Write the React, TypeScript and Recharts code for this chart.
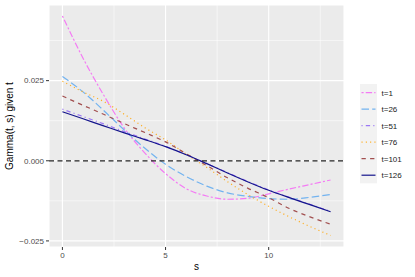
import React from "react";
import { LineChart, Line, XAxis, YAxis, CartesianGrid, ReferenceLine } from "recharts";

const S_VALUES = [0, 1, 2, 3, 4, 5, 6, 7, 8, 9, 10, 11, 12, 13];
const T1 = [0.0452, 0.032, 0.0205, 0.0102, 0.0024, -0.004, -0.0087, -0.011, -0.012, -0.0117, -0.0103, -0.0088, -0.0074, -0.006];
const T26 = [0.0263, 0.0215, 0.0157, 0.0096, 0.0039, -0.0011, -0.0049, -0.0079, -0.01, -0.0111, -0.0118, -0.012, -0.0114, -0.0105];
const T51 = [0.0161, 0.0138, 0.0115, 0.0091, 0.0068, 0.0045, 0.0019, -0.0009, -0.0037, -0.0065, -0.0091, -0.0114, -0.0136, -0.0158];
const T76 = [0.0248, 0.0215, 0.0185, 0.0145, 0.0103, 0.0065, 0.0021, -0.0021, -0.0065, -0.0106, -0.0142, -0.0175, -0.0205, -0.0233];
const T101 = [0.0202, 0.0173, 0.0145, 0.0116, 0.0088, 0.0059, 0.0022, -0.0015, -0.0053, -0.0086, -0.0115, -0.0149, -0.0175, -0.0198];
const T126 = [0.0153, 0.0131, 0.0109, 0.0087, 0.0066, 0.0044, 0.0019, -0.0009, -0.0038, -0.0066, -0.0092, -0.0115, -0.0137, -0.0159];

const SERIES_NAMES = ["t=1", "t=26", "t=51", "t=76", "t=101", "t=126"];
const SERIES_VALUES = [T1, T26, T51, T76, T101, T126];
const SERIES_COLORS = ["#F47BF4", "#72B3F0", "#9B78F5", "#FFAD1F", "#A24F4F", "#14148C"];
const SERIES_DASH = ["2.1 2.1 6.4 2.1", "7.5 3.2", "1.1 3.2 4.3 3.2", "1.1 3.2", "4.3 4.3", undefined];

const X_TICKS = [0, 5, 10];
const X_MINOR = [2.5, 7.5, 12.5];
const Y_TICKS = [-0.025, 0, 0.025];
const Y_MINOR = [-0.0125, 0.0125, 0.0375];

const data = S_VALUES.map((s, i) => {
  const row: Record<string, number> = { s };
  SERIES_NAMES.forEach((n, k) => {
    row[n] = SERIES_VALUES[k][i];
  });
  return row;
});

const FONT = "'Liberation Sans', Arial, Helvetica, sans-serif";

const fmtY = (v: number) => {
  const s = Math.abs(v).toFixed(3);
  return v < 0 ? "\u2212" + s : s;
};

export default function App() {
  return (
    <div style={{ position: "absolute", left: 0, top: 0, width: 415, height: 277, background: "#FFFFFF", fontFamily: FONT }}>
      <LineChart width={415} height={277} data={data} margin={{ top: 5, right: 71, bottom: 0, left: 0 }}>
        <CartesianGrid fill="#EBEBEB" stroke="#FFFFFF" strokeWidth={1.1} />
        {X_MINOR.map((x) => (
          <ReferenceLine key={"xm" + x} x={x} stroke="#FFFFFF" strokeWidth={0.55} />
        ))}
        {Y_MINOR.map((y) => (
          <ReferenceLine key={"ym" + y} y={y} stroke="#FFFFFF" strokeWidth={0.55} />
        ))}
        <XAxis
          dataKey="s"
          type="number"
          domain={[-0.65, 13.65]}
          allowDataOverflow
          ticks={X_TICKS}
          height={30}
          axisLine={false}
          tickLine={{ stroke: "#333333", strokeWidth: 1 }}
          tickSize={3}
          tickMargin={2}
          tick={{ fill: "#4D4D4D", fontSize: 8, fontFamily: FONT }}
          label={{ value: "s", position: "insideBottom", offset: 7.5, fill: "#000000", fontSize: 10, fontFamily: FONT }}
        />
        <YAxis
          type="number"
          domain={[-0.0269, 0.0486]}
          allowDataOverflow
          ticks={Y_TICKS}
          width={49}
          axisLine={false}
          tickLine={{ stroke: "#333333", strokeWidth: 1 }}
          tickSize={3}
          tickMargin={2}
          tickFormatter={fmtY}
          tick={{ fill: "#4D4D4D", fontSize: 8, fontFamily: FONT }}
          label={{
            value: "Gamma(t, s) given t",
            angle: -90,
            position: "insideLeft",
            offset: 9.5,
            fill: "#000000",
            fontSize: 10,
            fontFamily: FONT,
            style: { textAnchor: "middle" },
          }}
        />
        {SERIES_NAMES.map((n, k) => (
          <Line
            key={n}
            dataKey={n}
            type="monotone"
            stroke={SERIES_COLORS[k]}
            strokeWidth={1.2}
            strokeDasharray={SERIES_DASH[k]}
            dot={false}
            activeDot={false}
            isAnimationActive={false}
          />
        ))}
        <ReferenceLine y={0} stroke="#222222" strokeWidth={1.3} strokeDasharray="5 3.5" />
      </LineChart>
      <svg style={{ position: "absolute", left: 0, top: 0 }} width={415} height={277}>
        <rect x={360} y={84} width={17} height={99.3} fill="#F2F2F2" />
        {SERIES_NAMES.map((n, k) => {
          const cy = 92.7 + k * 16.5;
          return (
            <g key={n}>
              <line x1={361.5} x2={375.5} y1={cy} y2={cy} stroke={SERIES_COLORS[k]} strokeWidth={1.2} strokeDasharray={SERIES_DASH[k]} />
              <text x={381.5} y={cy + 3} fontSize={8} fill="#1A1A1A" fontFamily={FONT}>
                {n}
              </text>
            </g>
          );
        })}
      </svg>
    </div>
  );
}
